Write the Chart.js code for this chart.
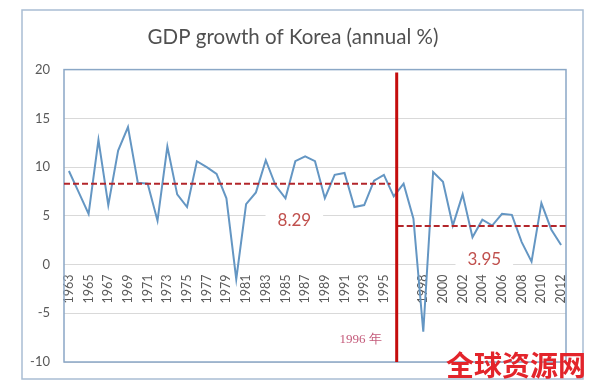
<!DOCTYPE html>
<html>
<head>
<meta charset="utf-8">
<script src="https://cdn.jsdelivr.net/npm/chart.js@4"></script>
<style>
  body { margin: 0; background: #fff; }
  #wrap { width: 600px; height: 388px; }
</style>
</head>
<body>
<div id="wrap"><canvas id="gdpChart"></canvas></div>
<script>
// years (one unlabeled point sits between 1996 and 1997 in the source)
const years = ["1963", "1964", "1965", "1966", "1967", "1968", "1969", "1970", "1971", "1972",
  "1973", "1974", "1975", "1976", "1977", "1978", "1979", "1980", "1981", "1982",
  "1983", "1984", "1985", "1986", "1987", "1988", "1989", "1990", "1991", "1992",
  "1993", "1994", "1995", "1996", "", "1997", "1998", "1999", "2000", "2001",
  "2002", "2003", "2004", "2005", "2006", "2007", "2008", "2009", "2010", "2011", "2012"];

const growth = [9.6, 7.4, 5.2, 12.8, 6.1, 11.7, 14.1, 8.4, 8.3, 4.5,
  12.1, 7.2, 5.9, 10.6, 10.0, 9.3, 6.8, -1.5, 6.2, 7.4,
  10.7, 8.1, 6.8, 10.6, 11.1, 10.6, 6.8, 9.2, 9.4, 5.9,
  6.1, 8.6, 9.2, 7.0, 8.3, 4.7, -6.9, 9.5, 8.5, 4.0,
  7.2, 2.8, 4.6, 4.0, 5.2, 5.1, 2.3, 0.3, 6.3, 3.6, 2.0];

const yTicks = [-10, -5, 0, 5, 10, 15, 20];
const splitYear = "1996";
const periodMeans = [8.29, 3.95];
const meanLabels = ["8.29", "3.95"];

// red markers: split line, period averages, labels
const marks = {
  id: "marks",
  beforeDraw(chart) {
    const ctx = chart.ctx;
    ctx.save();
    ctx.fillStyle = "#fff";
    ctx.fillRect(0, 0, chart.width, chart.height);
    ctx.strokeStyle = "#a9bdd3";
    ctx.lineWidth = 1.5;
    ctx.strokeRect(22, 10, 561, 369);
    ctx.restore();
  },
  afterDatasetsDraw(chart) {
    const { ctx, chartArea: a, scales: { x, y } } = chart;
    const splitX = x.getPixelForValue(years.indexOf(splitYear) + 0.3);
    ctx.save();

    // plot border
    ctx.strokeStyle = "#8aa7c6";
    ctx.lineWidth = 1.5;
    ctx.strokeRect(a.left, a.top, a.right - a.left, a.bottom - a.top);

    // averages
    ctx.strokeStyle = "#b3262b";
    ctx.lineWidth = 2;
    ctx.setLineDash([6, 3]);
    let y1 = y.getPixelForValue(periodMeans[0]);
    ctx.beginPath(); ctx.moveTo(a.left, y1); ctx.lineTo(splitX - 6, y1); ctx.stroke();
    let y2 = y.getPixelForValue(periodMeans[1]);
    ctx.beginPath(); ctx.moveTo(splitX + 1, y2); ctx.lineTo(a.right, y2); ctx.stroke();
    ctx.setLineDash([]);

    // split line
    ctx.strokeStyle = "#c40d0d";
    ctx.lineWidth = 3;
    ctx.beginPath(); ctx.moveTo(splitX, a.top + 3); ctx.lineTo(splitX, a.bottom); ctx.stroke();

    // mean labels with white box
    ctx.font = "17px Lato, 'Open Sans', sans-serif";
    ctx.textAlign = "center";
    ctx.textBaseline = "middle";
    const spots = [[22.9, 4.5], [42.2, 0.55]];
    spots.forEach((p, i) => {
      const px = x.getPixelForValue(p[0]);
      const py = y.getPixelForValue(p[1]);
      const w = ctx.measureText(meanLabels[i]).width + 24;
      ctx.fillStyle = "#fff";
      ctx.fillRect(px - w / 2, py - 10, w, 20);
      ctx.fillStyle = "#c0504d";
      ctx.fillText(meanLabels[i], px, py);
    });

    // year note
    ctx.font = "13px 'Liberation Serif', 'DejaVu Serif', serif";
    ctx.fillStyle = "#c45a7a";
    ctx.textAlign = "right";
    ctx.fillText(splitYear + " 年", splitX - 15, y.getPixelForValue(-7.7));

    // watermark
    ctx.font = "bold 28px 'Noto Sans CJK SC', sans-serif";
    ctx.fillStyle = "#e3242b";
    ctx.textAlign = "center";
    ctx.fillText("全球资源网", 516, 365);
    ctx.restore();
  }
};

new Chart(document.getElementById("gdpChart"), {
  type: "line",
  data: {
    labels: years,
    datasets: [{
      label: "GDP growth",
      data: growth,
      borderColor: "#6496c3",
      borderWidth: 2,
      pointRadius: 0,
      tension: 0
    }]
  },
  options: {
    responsive: true,
    maintainAspectRatio: false,
    animation: false,
    layout: { padding: { left: 20, right: 34, bottom: 26 } },
    plugins: {
      legend: { display: false },
      tooltip: { enabled: false },
      title: {
        display: true,
        text: "GDP growth of Korea (annual %)",
        color: "#505050",
        font: { size: 20.5, weight: "normal", family: "Lato, 'Open Sans', sans-serif" },
        padding: { top: 25, bottom: 20 }
      }
    },
    scales: {
      x: {
        position: { y: 0 },
        offset: true,
        grid: { display: false, drawTicks: false },
        border: { display: false },
        ticks: {
          autoSkip: false,
          minRotation: 90,
          maxRotation: 90,
          padding: 10,
          color: "#595959",
          font: { size: 12.5, family: "Lato, 'Open Sans', sans-serif" },
          callback: (v, i) => (i % 2 === 0 ? years[i] : "")
        }
      },
      y: {
        min: -10,
        max: 20,
        afterBuildTicks: s => { s.ticks = yTicks.map(v => ({ value: v })); },
        afterFit: s => { s.width = 44; },
        grid: { color: "#d9d9d9", drawTicks: false },
        border: { display: false },
        ticks: {
          padding: 14,
          color: "#595959",
          font: { size: 13, family: "Lato, 'Open Sans', sans-serif" }
        }
      }
    }
  },
  plugins: [marks]
});
</script>
</body>
</html>
